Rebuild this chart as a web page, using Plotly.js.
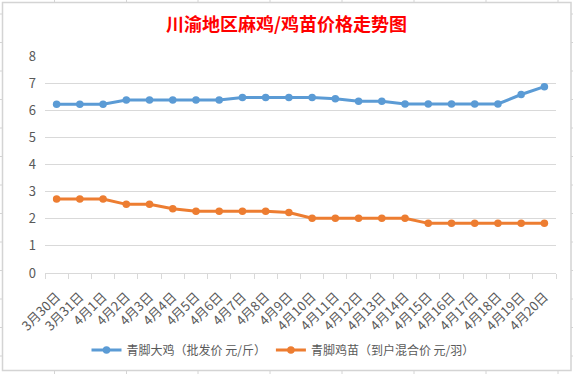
<!DOCTYPE html>
<html>
<head>
<meta charset="utf-8">
<script src="https://cdn.plot.ly/plotly-3.0.1.min.js"></script>
<style>
  html, body { margin: 0; padding: 0; background: #ffffff; }
  #chart { width: 573px; height: 374px; }
</style>
</head>
<body>
<div id="chart"></div>
<script>
// ---- data ----
const dates = ["3月30日","3月31日","4月1日","4月2日","4月3日","4月4日","4月5日","4月6日","4月7日","4月8日","4月9日",
               "4月10日","4月11日","4月12日","4月13日","4月14日","4月15日","4月16日","4月17日","4月18日","4月19日","4月20日"];
const broilerPrice = [6.22,6.22,6.22,6.38,6.38,6.38,6.38,6.38,6.47,6.47,6.47,
                      6.47,6.42,6.33,6.33,6.23,6.23,6.23,6.23,6.23,6.58,6.87];
const chickPrice = [2.73,2.73,2.73,2.53,2.53,2.37,2.28,2.28,2.28,2.28,2.23,
                    2.02,2.02,2.02,2.02,2.02,1.83,1.83,1.83,1.83,1.83,1.83];
const seriesNames = ["青脚大鸡（批发价 元/斤）", "青脚鸡苗（到户混合价 元/羽）"];
const chartTitle = "川渝地区麻鸡/鸡苗价格走势图";
const yTicks = [0,1,2,3,4,5,6,7,8];

// ---- layout geometry (pixels) ----
const W = 573, H = 374;
const M = {l: 45, r: 17, t: 56, b: 101, autoexpand: false};
const pw = W - M.l - M.r, ph = H - M.t - M.b;
const px = x => (x - M.l) / pw;
const py = y => (H - M.b - y) / ph;

const sheetColor = "#d4d4d4";
const shapes = [];
// chart-area border (spreadsheet grid lines)
shapes.push({type: "rect", xref: "paper", yref: "paper", x0: px(2.5), x1: px(571), y0: py(2.5), y1: py(370.5),
             line: {color: sheetColor, width: 1.5}, fillcolor: "rgba(0,0,0,0)", layer: "below"});
[54.5, 126.5, 198, 270, 342, 414, 486, 558].forEach(x => {
  shapes.push({type: "line", xref: "paper", yref: "paper", x0: px(x), x1: px(x), y0: py(0), y1: py(2.5), line: {color: sheetColor, width: 1}});
  shapes.push({type: "line", xref: "paper", yref: "paper", x0: px(x), x1: px(x), y0: py(370.5), y1: py(374), line: {color: sheetColor, width: 1}});
});
for (let y = 14; y < 370; y += 28.5) {
  shapes.push({type: "line", xref: "paper", yref: "paper", x0: px(0), x1: px(2.5), y0: py(y), y1: py(y), line: {color: sheetColor, width: 1}});
  shapes.push({type: "line", xref: "paper", yref: "paper", x0: px(571), x1: px(573), y0: py(y), y1: py(y), line: {color: sheetColor, width: 1}});
}

const font = "'Noto Sans CJK SC', 'Noto Sans', sans-serif";
const traces = [
  {x: dates, y: broilerPrice, name: seriesNames[0], type: "scatter", mode: "lines+markers",
   line: {color: "#5b9bd5", width: 3}, marker: {color: "#5b9bd5", size: 7.5}},
  {x: dates, y: chickPrice, name: seriesNames[1], type: "scatter", mode: "lines+markers",
   line: {color: "#ed7d31", width: 3}, marker: {color: "#ed7d31", size: 7.5}}
];

const layout = {
  width: W, height: H,
  margin: M,
  paper_bgcolor: "#ffffff", plot_bgcolor: "#ffffff",
  font: {family: font, color: "#595959", size: 12},
  title: {text: chartTitle, font: {family: font, size: 18, color: "#ff0000", weight: "bold"},
          x: 0.5, xref: "container", y: 1 - 25 / H, yref: "container", yanchor: "middle"},
  xaxis: {type: "category", range: [-0.5, dates.length - 0.5], tickson: "boundaries", showgrid: false,
          showline: true, linecolor: "#d9d9d9", linewidth: 1,
          ticks: "outside", ticklen: 5, tickcolor: "#d9d9d9", tickangle: -45, tickfont: {size: 13, color: "#595959"},
          ticklabelstandoff: 10, automargin: false, zeroline: false, fixedrange: true},
  yaxis: {range: [0, 8], tickvals: yTicks, showgrid: true, gridcolor: "#d9d9d9", gridwidth: 1, zeroline: false,
          showline: false, ticks: "", ticklabelstandoff: 8, automargin: false,
          tickfont: {size: 13, color: "#595959"}, fixedrange: true},
  showlegend: true,
  legend: {orientation: "h", xref: "container", yref: "container", x: 283 / W, xanchor: "center",
           y: 1 - 350 / H, yanchor: "middle",
           font: {size: 12, color: "#595959"}, itemwidth: 30, bgcolor: "rgba(0,0,0,0)"},
  shapes: shapes,
  hovermode: false
};

Plotly.newPlot("chart", traces, layout, {displayModeBar: false, staticPlot: true});
</script>
</body>
</html>
